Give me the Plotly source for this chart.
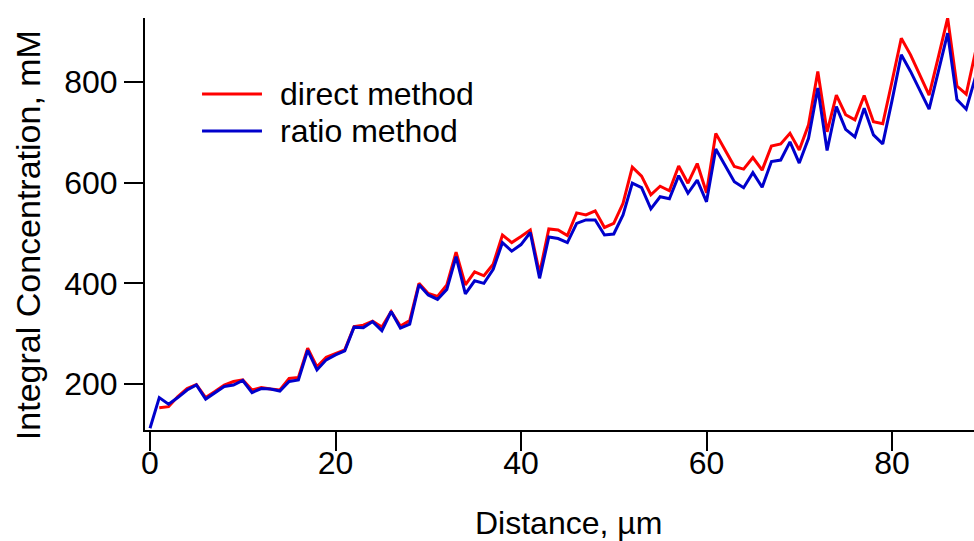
import plotly.graph_objects as go

# Distance along the profile (µm)
distance = list(range(0, 90))

# Integral concentration (mM) from the direct method
direct_method = [
    None, 153, 155, 175, 191, 199, 173, 185, 198, 205,
    208, 188, 193, 190, 188, 211, 213, 271, 234, 253,
    261, 268, 314, 317, 325, 313, 344, 315, 326, 400,
    380, 374, 397, 462, 397, 423, 415, 438, 496, 481,
    493, 506, 420, 508, 506, 495, 540, 536, 544, 511,
    519, 559, 631, 613, 576, 593, 584, 633, 599, 638,
    580, 698, 665, 632, 627, 650, 625, 673, 677, 698,
    665, 715, 821, 701, 774, 735, 725, 773, 721, 717,
    801, 887, 854, 814, 774, 850, 927, 792, 776, 860,
]

# Integral concentration (mM) from the ratio method
ratio_method = [
    112, 173, 160, 173, 188, 198, 170, 183, 195, 198,
    207, 183, 191, 190, 186, 205, 208, 267, 228, 248,
    258, 266, 313, 312, 324, 306, 344, 311, 319, 397,
    377, 368, 388, 453, 379, 405, 400, 428, 481, 464,
    477, 501, 410, 492, 489, 481, 519, 526, 526, 496,
    498, 536, 599, 590, 548, 572, 568, 614, 579, 605,
    562, 667, 635, 602, 590, 620, 591, 642, 645, 681,
    639, 688, 788, 664, 751, 706, 691, 748, 695, 677,
    763, 854, 821, 784, 746, 821, 897, 765, 746, 810,
]

series_names = ["direct method", "ratio method"]
series_colors = ["#ff0000", "#0000cc"]

FONT = "Liberation Sans, Arial, sans-serif"

fig = go.Figure()
for name, values, color in zip(series_names, [direct_method, ratio_method], series_colors):
    fig.add_trace(go.Scatter(
        x=distance, y=values, mode="lines", name=name,
        line=dict(color=color, width=3),
        showlegend=False, connectgaps=False,
    ))

# Hand-built legend in the upper-left corner of the plot area
legend_rows = [0.8155, 0.7257]
for name, color, yrow in zip(series_names, series_colors, legend_rows):
    fig.add_shape(type="line", xref="paper", yref="paper",
                  x0=0.0688, x1=0.1411, y0=yrow, y1=yrow,
                  line=dict(color=color, width=3))
    fig.add_annotation(xref="paper", yref="paper", x=0.1604, y=yrow,
                       text=name, showarrow=False, xanchor="left", yanchor="middle",
                       font=dict(family=FONT, size=32, color="black"))

# Axis titles
fig.add_annotation(xref="paper", yref="paper", x=0.5103, y=-0.2257,
                   text="Distance, µm", showarrow=False,
                   xanchor="center", yanchor="middle",
                   font=dict(family=FONT, size=32, color="black"))
fig.add_annotation(xref="paper", yref="paper", x=-0.1411, y=0.473,
                   text="Integral Concentration, mM", showarrow=False, textangle=-90,
                   xanchor="center", yanchor="middle",
                   font=dict(family=FONT, size=34, color="black"))

axis_common = dict(
    showline=True, linecolor="black", linewidth=2,
    ticks="outside", ticklen=19, tickwidth=2, tickcolor="black",
    showgrid=False, zeroline=False,
    tickfont=dict(family=FONT, size=32, color="black"),
)

fig.update_layout(
    width=974, height=541,
    margin=dict(l=145, r=0, t=18, b=111),
    paper_bgcolor="white", plot_bgcolor="white",
    font=dict(family=FONT, color="black"),
    xaxis=dict(range=[-0.54, 88.84], tick0=0, dtick=20, ticklabelstandoff=-15, **axis_common),
    yaxis=dict(range=[108.6, 927.2], tick0=0, dtick=200, **axis_common),
)

fig.write_html("out.html")
